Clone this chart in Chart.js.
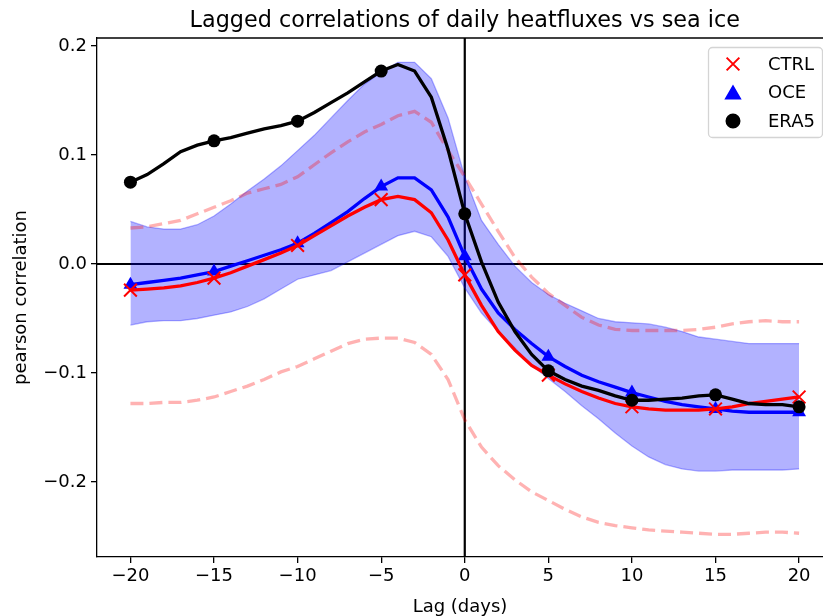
<!DOCTYPE html>
<html>
<head>
<meta charset="utf-8">
<script src="https://cdn.jsdelivr.net/npm/chart.js@4"></script>
<style>
  html, body { margin: 0; padding: 0; background: #fff; overflow: hidden; }
  canvas { display: block; }
</style>
</head>
<body>
<canvas id="grafico" width="823" height="616"></canvas>
<script>
// dados (um valor por dia de lag)
const lags = [-20,-19,-18,-17,-16,-15,-14,-13,-12,-11,-10,-9,-8,-7,-6,-5,-4,-3,-2,-1,0,1,2,3,4,5,6,7,8,9,10,11,12,13,14,15,16,17,18,19,20];

const era5 = [0.075,0.082,0.092,0.103,0.109,0.113,0.116,0.120,0.124,0.127,0.131,0.139,0.148,0.157,0.167,0.177,0.183,0.177,0.153,0.105,0.046,0.002,-0.035,-0.062,-0.083,-0.098,-0.106,-0.112,-0.116,-0.121,-0.125,-0.125,-0.124,-0.123,-0.121,-0.120,-0.124,-0.128,-0.129,-0.129,-0.131];
const ctrl = [-0.024,-0.023,-0.022,-0.020,-0.017,-0.013,-0.008,-0.002,0.004,0.010,0.017,0.026,0.035,0.044,0.052,0.059,0.062,0.059,0.047,0.022,-0.010,-0.038,-0.062,-0.079,-0.093,-0.102,-0.110,-0.117,-0.123,-0.128,-0.131,-0.133,-0.134,-0.134,-0.134,-0.133,-0.131,-0.128,-0.126,-0.124,-0.122];
const oce = [-0.019,-0.017,-0.015,-0.013,-0.010,-0.007,-0.002,0.003,0.008,0.013,0.019,0.028,0.038,0.048,0.060,0.071,0.079,0.079,0.068,0.043,0.007,-0.023,-0.045,-0.060,-0.073,-0.085,-0.094,-0.102,-0.108,-0.113,-0.118,-0.122,-0.126,-0.129,-0.131,-0.133,-0.135,-0.136,-0.136,-0.136,-0.136];

// faixa do OCE (area azul)
const oceMax = [0.039,0.034,0.032,0.032,0.036,0.044,0.055,0.067,0.078,0.090,0.104,0.118,0.134,0.150,0.165,0.176,0.185,0.185,0.170,0.134,0.080,0.040,0.018,-0.002,-0.017,-0.028,-0.036,-0.043,-0.050,-0.053,-0.054,-0.055,-0.058,-0.062,-0.067,-0.069,-0.071,-0.073,-0.073,-0.073,-0.073];
const oceMin = [-0.056,-0.053,-0.052,-0.052,-0.050,-0.047,-0.044,-0.039,-0.032,-0.023,-0.014,-0.010,-0.006,0.002,0.010,0.018,0.026,0.030,0.025,0.007,-0.022,-0.045,-0.062,-0.077,-0.093,-0.105,-0.117,-0.130,-0.142,-0.155,-0.167,-0.177,-0.184,-0.188,-0.190,-0.190,-0.189,-0.189,-0.189,-0.189,-0.188];

// faixa do CTRL (linhas tracejadas)
const ctrlMax = [0.033,0.034,0.037,0.040,0.046,0.052,0.058,0.065,0.069,0.073,0.080,0.091,0.102,0.112,0.121,0.128,0.136,0.140,0.130,0.104,0.080,0.055,0.030,0.006,-0.012,-0.027,-0.038,-0.049,-0.056,-0.060,-0.061,-0.061,-0.061,-0.061,-0.060,-0.058,-0.055,-0.053,-0.052,-0.053,-0.053];
const ctrlMin = [-0.128,-0.128,-0.127,-0.127,-0.125,-0.122,-0.117,-0.112,-0.106,-0.099,-0.094,-0.087,-0.080,-0.073,-0.069,-0.068,-0.068,-0.072,-0.083,-0.106,-0.143,-0.168,-0.185,-0.198,-0.209,-0.217,-0.225,-0.232,-0.237,-0.240,-0.242,-0.244,-0.245,-0.246,-0.247,-0.248,-0.248,-0.247,-0.246,-0.246,-0.247];

const xTicks = [-20, -15, -10, -5, 0, 5, 10, 15, 20];
const yTicks = [-0.2, -0.1, 0.0, 0.1, 0.2];

const titulo = 'Lagged correlations of daily heatfluxes vs sea ice';
const fonte = 'DejaVu Sans';

function pontos(arr) {
  return lags.map((l, i) => ({ x: l, y: arr[i] }));
}

// marcador so a cada 5 dias
function raio(r) {
  return c => (lags[c.dataIndex] % 5 === 0 ? r : 0);
}

function menos(v) {
  return String(v).replace('-', '\u2212');
}

// plugin: titulo, moldura de cima, linhas do zero e legenda
const extras = {
  id: 'extras',
  beforeDatasetsDraw(chart) {
    const { ctx, chartArea: a, scales: { x, y } } = chart;
    ctx.save();
    ctx.strokeStyle = '#000';
    ctx.lineWidth = 2.2;
    const x0 = x.getPixelForValue(0);
    const y0 = y.getPixelForValue(0);
    ctx.beginPath();
    ctx.moveTo(x0, a.top); ctx.lineTo(x0, a.bottom);
    ctx.moveTo(a.left, y0); ctx.lineTo(a.right, y0);
    ctx.stroke();
    ctx.restore();
  },
  afterDraw(chart) {
    const { ctx, chartArea: a, scales: { x } } = chart;
    ctx.save();
    // moldura de cima
    ctx.strokeStyle = '#000';
    ctx.lineWidth = 1.3;
    ctx.beginPath();
    ctx.moveTo(a.left, a.top); ctx.lineTo(a.right, a.top);
    ctx.stroke();

    // titulo (centrado no eixo inteiro, que vai ate +22)
    const centro = (x.getPixelForValue(-22) + x.getPixelForValue(22)) / 2;
    ctx.fillStyle = '#000';
    ctx.font = '22.3px "' + fonte + '"';
    ctx.textAlign = 'center';
    ctx.textBaseline = 'alphabetic';
    ctx.fillText(titulo, centro, 27);

    // legenda
    ctx.beginPath();
    ctx.roundRect(708.5, 47.5, 114, 90, 4);
    ctx.fillStyle = 'rgba(255,255,255,0.8)';
    ctx.fill();
    ctx.strokeStyle = '#d4d4d4';
    ctx.lineWidth = 1.3;
    ctx.stroke();

    const itens = [
      { txt: 'CTRL', style: 'crossRot', cor: 'red', r: 9 },
      { txt: 'OCE', style: 'triangle', cor: 'blue', r: 8 },
      { txt: 'ERA5', style: 'circle', cor: 'black', r: 6.5 }
    ];
    ctx.font = '18px "' + fonte + '"';
    ctx.textAlign = 'left';
    ctx.textBaseline = 'middle';
    itens.forEach((it, i) => {
      const yy = 64 + i * 28.5;
      ctx.fillStyle = it.cor;
      ctx.strokeStyle = it.cor;
      ctx.lineWidth = 2;
      Chart.helpers.drawPoint(ctx, { pointStyle: it.style, radius: it.r, borderWidth: 2, rotation: 0 }, 733, it.style === 'triangle' ? yy + 2 : yy);
      ctx.fillStyle = '#000';
      ctx.fillText(it.txt, 768, yy + 1);
    });
    ctx.restore();
  }
};

const linhaCheia = 3.3;

new Chart(document.getElementById('grafico'), {
  type: 'line',
  data: {
    datasets: [
      {
        label: 'ERA5', data: pontos(era5), order: 0,
        borderColor: '#000', backgroundColor: '#000', borderWidth: linhaCheia,
        pointStyle: 'circle', pointRadius: raio(6.5), pointBorderWidth: 0, fill: false
      },
      {
        label: 'CTRL', data: pontos(ctrl), order: 1,
        borderColor: '#ff0000', backgroundColor: '#ff0000', borderWidth: linhaCheia,
        pointStyle: 'crossRot', pointRadius: raio(9), pointBorderWidth: 2, fill: false
      },
      {
        label: 'OCE', data: pontos(oce), order: 2,
        borderColor: '#0000ff', backgroundColor: '#0000ff', borderWidth: linhaCheia,
        pointStyle: 'triangle', pointRadius: raio(8), pointBorderWidth: 0, fill: false
      },
      {
        label: 'CTRL max', data: pontos(ctrlMax), order: 3,
        borderColor: 'rgba(255,0,0,0.3)', borderWidth: linhaCheia, borderDash: [13, 6],
        pointRadius: 0, fill: false
      },
      {
        label: 'CTRL min', data: pontos(ctrlMin), order: 3,
        borderColor: 'rgba(255,0,0,0.3)', borderWidth: linhaCheia, borderDash: [13, 6],
        pointRadius: 0, fill: false
      },
      {
        label: 'OCE max', data: pontos(oceMax), order: 4,
        borderColor: 'rgba(0,0,255,0.3)', backgroundColor: 'rgba(0,0,255,0.3)', borderWidth: 1.3,
        pointRadius: 0, fill: '+1'
      },
      {
        label: 'OCE min', data: pontos(oceMin), order: 5,
        borderColor: 'rgba(0,0,255,0.3)', borderWidth: 1.3,
        pointRadius: 0, fill: false
      }
    ]
  },
  options: {
    responsive: false,
    animation: false,
    layout: { autoPadding: false, padding: { left: 0, top: 38, right: 0, bottom: 0 } },
    elements: { line: { tension: 0 } },
    plugins: {
      legend: { display: false },
      title: { display: false },
      tooltip: { enabled: false }
    },
    scales: {
      x: {
        // o eixo original vai ate +22, mas a imagem corta em ~21.4
        type: 'linear', min: -22, max: 21.43,
        afterBuildTicks: s => { s.ticks = xTicks.map(v => ({ value: v })); },
        afterFit: s => { s.height = 59; s.paddingLeft = 0; s.paddingRight = 0; },
        grid: { drawOnChartArea: false, color: '#000', tickColor: '#000', tickLength: 6, lineWidth: 1.3 },
        border: { color: '#000', width: 1.3 },
        ticks: { color: '#000', font: { family: fonte, size: 18 }, padding: 3, maxRotation: 0, callback: v => menos(v) },
        title: { display: true, text: 'Lag (days)', color: '#000', font: { family: fonte, size: 18 }, padding: { top: 0, bottom: -2 } }
      },
      y: {
        type: 'linear', min: -0.2688, max: 0.2073,
        afterBuildTicks: s => { s.ticks = yTicks.map(v => ({ value: v })); },
        afterFit: s => { s.width = 97; s.paddingTop = 0; s.paddingBottom = 0; },
        grid: { drawOnChartArea: false, color: '#000', tickColor: '#000', tickLength: 6, lineWidth: 1.3 },
        border: { color: '#000', width: 1.3 },
        ticks: { color: '#000', font: { family: fonte, size: 18 }, padding: 4, callback: v => menos(v.toFixed(1)) },
        title: { display: true, text: 'pearson correlation', color: '#000', font: { family: fonte, size: 18 }, padding: { top: 11, bottom: 0 } }
      }
    }
  },
  plugins: [extras]
});
</script>
</body>
</html>
